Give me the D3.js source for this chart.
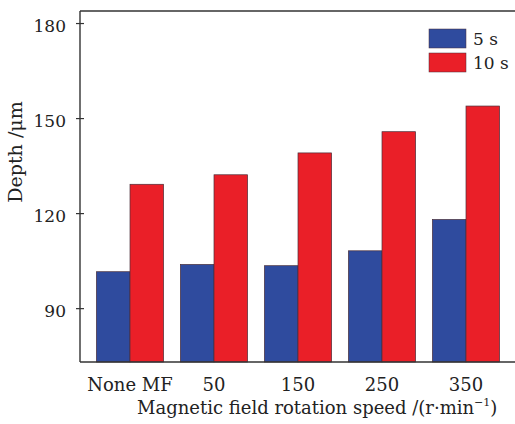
<!DOCTYPE html>
<html>
<head>
<meta charset="utf-8">
<script src="https://cdn.jsdelivr.net/npm/d3@7"></script>
<style>
  body { margin: 0; background: #fff; }
  svg text { font-family: "DejaVu Serif", serif; fill: #222; }
</style>
</head>
<body>
<div id="chart"></div>
<script>
// data
const categories = ["None MF", "50", "150", "250", "350"];
const series = ["5 s", "10 s"];
const depth5s = [101.5, 103.8, 103.4, 108.1, 118.0];
const depth10s = [129.1, 132.1, 139.0, 145.7, 153.8];
const yTicks = [90, 120, 150, 180];
const colors = ["#2f4b9e", "#ea1f28"];

const width = 515, height = 424;
const plotLeft = 80, plotRight = 515, plotTop = 11, plotBottom = 362;
const serif = "DejaVu Serif";

const svg = d3.select("#chart").append("svg")
  .attr("width", width)
  .attr("height", height);

const x = d3.scaleBand()
  .domain(categories)
  .range([88, 508])
  .paddingInner(0.2)
  .paddingOuter(0.1);

const xSub = d3.scaleBand()
  .domain(series)
  .range([0, x.bandwidth()]);

const y = d3.scaleLinear()
  .domain([73, 183.8])
  .range([plotBottom, plotTop]);

const rows = categories.map(function(c, i) {
  return { cat: c, values: [depth5s[i], depth10s[i]] };
});

// bars
const groups = svg.selectAll(".grp")
  .data(rows)
  .enter()
  .append("g")
  .attr("class", "grp")
  .attr("transform", function(d) { return "translate(" + x(d.cat) + ",0)"; });

groups.selectAll("rect")
  .data(function(d) { return d.values.map(function(v, j) { return { s: series[j], v: v, j: j }; }); })
  .enter()
  .append("rect")
  .attr("x", function(d) { return xSub(d.s); })
  .attr("y", function(d) { return y(d.v); })
  .attr("width", xSub.bandwidth())
  .attr("height", function(d) { return plotBottom - y(d.v); })
  .attr("fill", function(d) { return colors[d.j]; })
  .attr("stroke", "#4a2f3a")
  .attr("stroke-width", 0.7);

// frame
svg.append("line")
  .attr("x1", plotLeft).attr("x2", plotRight)
  .attr("y1", plotTop).attr("y2", plotTop)
  .attr("stroke", "#333").attr("stroke-width", 1.4);
svg.append("line")
  .attr("x1", plotLeft).attr("x2", plotRight)
  .attr("y1", plotBottom).attr("y2", plotBottom)
  .attr("stroke", "#333").attr("stroke-width", 1.4);

// y axis, ticks cross the line
const yAxis = svg.append("g")
  .attr("transform", "translate(" + plotLeft + ",0)")
  .call(d3.axisLeft(y).tickValues(yTicks).tickSize(4).tickPadding(10));
yAxis.attr("font-family", serif);
yAxis.select(".domain").attr("stroke", "#333").attr("stroke-width", 1.4)
  .attr("d", "M0," + plotTop + "V" + plotBottom);
yAxis.selectAll(".tick line").attr("x2", 4).attr("x1", -4).attr("stroke", "#333").attr("stroke-width", 1.2);
yAxis.selectAll(".tick text")
  .attr("font-size", 17)
  .attr("dy", "0.5em")
  .attr("fill", "#222");

// x labels
const xAxis = svg.append("g")
  .attr("transform", "translate(0," + plotBottom + ")")
  .call(d3.axisBottom(x).tickSize(0).tickPadding(0));
xAxis.attr("font-family", serif);
xAxis.select(".domain").remove();
xAxis.selectAll(".tick text")
  .attr("font-size", 18)
  .attr("dy", 0)
  .attr("y", 29)
  .attr("fill", "#222");

// axis titles
const xt = svg.append("text")
  .attr("x", 137)
  .attr("y", 414)
  .attr("font-size", 18);
xt.append("tspan").text("Magnetic field rotation speed /(r\u00b7min");
xt.append("tspan").attr("font-size", 11).attr("dy", -8).text("\u22121");
xt.append("tspan").attr("dy", 8).text(")");

svg.append("text")
  .attr("transform", "translate(22,152) rotate(-90)")
  .attr("text-anchor", "middle")
  .attr("font-size", 19)
  .text("Depth /\u03bcm");

// legend
const legend = svg.append("g").attr("transform", "translate(429,29)");
series.forEach(function(s, i) {
  legend.append("rect")
    .attr("x", 0).attr("y", i * 24)
    .attr("width", 37).attr("height", 19)
    .attr("fill", colors[i])
    .attr("stroke", "#4a2f3a").attr("stroke-width", 0.5);
  legend.append("text")
    .attr("x", 44).attr("y", i * 24 + 16)
    .attr("font-size", 17)
    .text(s);
});
</script>
</body>
</html>
